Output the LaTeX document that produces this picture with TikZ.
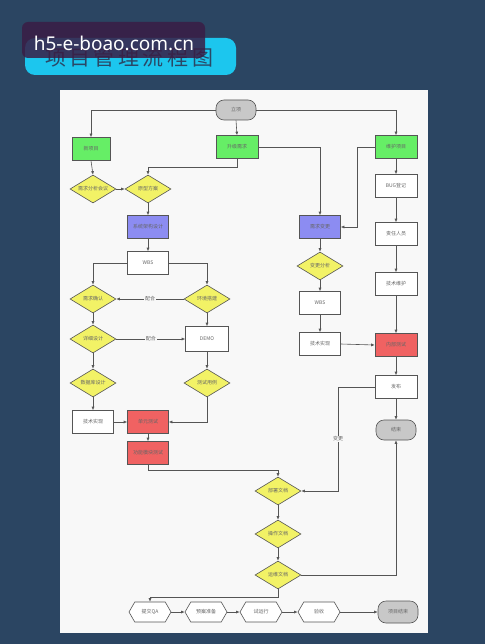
\documentclass[tikz,border=0pt]{standalone}
\usepackage{fontspec}
\newfontfamily\cjk{Noto Sans CJK SC}
\newfontfamily\wmfont{Noto Sans}
\usetikzlibrary{shapes.geometric,shapes.symbols,shapes.misc,arrows.meta}
\definecolor{bgc}{HTML}{2B4562}
\definecolor{pagec}{HTML}{F8F8F8}
\definecolor{linec}{HTML}{555555}
\definecolor{txtc}{HTML}{666666}
\definecolor{greenc}{HTML}{66EE66}
\definecolor{bluec}{HTML}{8C8CF2}
\definecolor{redc}{HTML}{F06262}
\definecolor{yellowc}{HTML}{F2F266}
\definecolor{greyc}{HTML}{C8C8C8}
\definecolor{cyanc}{HTML}{1CC6EE}
\definecolor{titlec}{HTML}{2A4866}
\definecolor{wmc}{HTML}{3A1D45}
\tikzset{
  base/.style={draw=linec, line width=0.6pt, inner sep=0pt, text=txtc,
    font=\cjk\fontsize{5}{6}\selectfont},
  rbox/.style={base, rectangle, minimum width=41pt, minimum height=23pt, fill=white},
  gbox/.style={rbox, fill=greenc, minimum width=42pt},
  bbox/.style={rbox, fill=bluec},
  redbox/.style={rbox, fill=redc},
  dia/.style={base, diamond, fill=yellowc, minimum width=46pt, minimum height=28pt, aspect=1.6},
  term/.style={base, rectangle, rounded corners=8pt, fill=greyc, minimum width=40pt, minimum height=20pt},
  hexa/.style={base, signal, signal to=east and west, signal pointer angle=120, fill=white,
    minimum width=42pt, minimum height=20pt},
  arr/.style={draw=linec, line width=0.6pt, -{Latex[length=3.5pt,width=3pt]}},
  lab/.style={fill=pagec, inner sep=1pt, text=txtc, font=\cjk\fontsize{5}{6}\selectfont}
}
\begin{document}
\begin{tikzpicture}[x=1pt,y=-1pt]
\useasboundingbox (0,0) rectangle (485,644);
\fill[bgc] (0,0) rectangle (485,644);
\fill[pagec] (60,90) rectangle (428,633);
% title
\fill[cyanc, rounded corners=10pt] (25,38) rectangle (236,75);
\node[text=titlec, font=\cjk\fontsize{21}{24}\selectfont] (title) at (129,57) {项\,目\,管\,理\,流\,程\,图};
\fill[wmc, opacity=0.85, rounded corners=6pt] (22,22) rectangle (205,58);
\node[text=white, font=\wmfont\fontsize{19}{22}\selectfont] (wm) at (114,43) {h5-e-boao.com.cn};

% nodes
\node[term] (start) at (236,110) {立项};
\node[gbox, minimum width=38pt] (newp) at (91,149) {新项目};
\node[gbox] (upg) at (237,147) {升级需求};
\node[gbox] (mnt) at (396,147) {维护项目};
\node[dia] (reqmeet) at (93,189) {需求分析会议};
\node[dia] (proto) at (148,189) {原型方案};
\node[bbox] (arch) at (148,227) {系统架构设计};
\node[rbox] (wbsa) at (148,263) {WBS};
\node[dia] (reqok) at (93,299) {需求确认};
\node[dia] (env) at (207,299) {环境搭建};
\node[dia] (detail) at (93,339) {详细设计};
\node[rbox, minimum width=43pt, minimum height=25pt] (demo) at (207,339) {DEMO};
\node[dia] (db) at (93,383) {数据库设计};
\node[dia] (tcase) at (207,383) {测试用例};
\node[rbox] (impa) at (93,422) {技术实现};
\node[redbox] (unit) at (148,422) {单元测试};
\node[redbox] (modt) at (148,453) {功能模块测试};
\node[bbox] (chg) at (320,227) {需求变更};
\node[dia] (chga) at (320,266) {变更分析};
\node[rbox] (wbsb) at (320,303) {WBS};
\node[rbox] (impb) at (320,344) {技术实现};
\node[rbox, minimum width=42pt] (bug) at (396,186) {BUG登记};
\node[rbox, minimum width=42pt] (resp) at (396,234) {责任人员};
\node[rbox, minimum width=42pt] (tmnt) at (396,284) {技术维护};
\node[redbox, minimum width=42pt] (intt) at (396,345) {内部测试};
\node[rbox, minimum width=42pt] (rel) at (396,387) {发布};
\node[term] (fin) at (396,430) {结束};
\node[dia] (dep) at (278,491) {部署文档};
\node[dia] (opdoc) at (278,534) {操作文档};
\node[dia] (ops) at (278,575) {运维文档};
\node[hexa] (qa) at (150,612) {提交QA};
\node[hexa] (prep) at (206,612) {预案准备};
\node[hexa] (trial) at (261,612) {试运行};
\node[hexa] (acc) at (319,612) {验收};
\node[term, minimum height=22pt] (pend) at (398,612) {项目结束};

\coordinate (c1) at (357,147);
\coordinate (c2) at (338,387);

% connectors
\draw[arr] (start.west) -| (newp.north);
\draw[arr] (start.east) -| (mnt.north);
\draw[arr] (start.south) -- (upg.north);
\draw[arr] (newp.south) -- (reqmeet.north);
\draw[arr] (reqmeet.east) -- (proto.west);
\draw[arr] (upg.south) -- ++(0,9) -| (proto.north);
\draw[arr] (upg.east) -| (chg.north);
\draw[arr] (mnt.west) -- (c1) |- (chg.east);
\draw[arr] (mnt.south) -- (bug.north);
\draw[arr] (bug.south) -- (resp.north);
\draw[arr] (resp.south) -- (tmnt.north);
\draw[arr] (tmnt.south) -- (intt.north);
\draw[arr] (intt.south) -- (rel.north);
\draw[arr] (rel.south) -- (fin.north);
\draw[arr] (proto.south) -- (arch.north);
\draw[arr] (arch.south) -- (wbsa.north);
\draw[arr] (wbsa.west) -| (reqok.north);
\draw[arr] (wbsa.east) -| (env.north);
\draw[arr] (env.west) -- node[lab] {配合} (reqok.east);
\draw[arr] (reqok.south) -- (detail.north);
\draw[arr] (env.south) -- (demo.north);
\draw[arr] (detail.east) -- node[lab] {配合} (demo.west);
\draw[arr] (detail.south) -- (db.north);
\draw[arr] (db.south) -- (impa.north);
\draw[arr] (demo.south) -- (tcase.north);
\draw[arr] (tcase.south) |- (unit.east);
\draw[arr] (impa.east) -- (unit.west);
\draw[arr] (unit.south) -- (modt.north);
\draw[arr] (modt.south) -- ++(0,5) -| (dep.north);
\draw[arr] (chg.south) -- (chga.north);
\draw[arr] (chga.south) -- (wbsb.north);
\draw[arr] (wbsb.south) -- (impb.north);
\draw[arr] (impb.east) -- (intt.west);
\draw[arr] (rel.west) -- (c2) |- node[lab, pos=0.25] {变更} (dep.east);
\draw[arr] (dep.south) -- (opdoc.north);
\draw[arr] (opdoc.south) -- (ops.north);
\draw[arr] (ops.east) -| (fin.south);
\draw[arr] (ops.south) -- ++(0,8) -| (qa.north);
\draw[arr] (qa.east) -- (prep.west);
\draw[arr] (prep.east) -- (trial.west);
\draw[arr] (trial.east) -- (acc.west);
\draw[arr] (acc.east) -- (pend.west);
\end{tikzpicture}
\end{document}
